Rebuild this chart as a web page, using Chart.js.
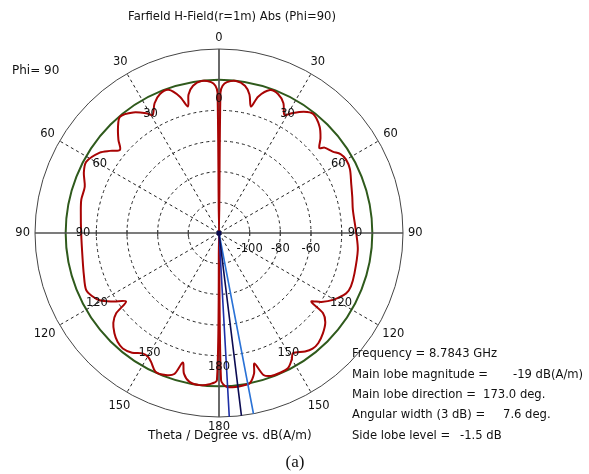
<!DOCTYPE html>
<html>
<head>
<meta charset="utf-8">
<title>Farfield H-Field (Phi=90)</title>
<script src="https://cdn.jsdelivr.net/npm/chart.js@4.4.1/dist/chart.umd.min.js"></script>
<style>
  html, body { margin: 0; padding: 0; background: #ffffff; }
  #wrap { width: 589px; height: 474px; position: relative; }
</style>
</head>
<body>
<div id="wrap"><canvas id="farfield" width="589" height="474"></canvas></div>
<script>
// Angular resolution of the polar categories (degrees per step)
const STEP = 0.2;

// Pattern for phi = 90 (right half, theta measured clockwise from the top)
const thetaPhi90 = [0, 0.6, 1.4, 3, 6.4, 10, 12.4, 14.2, 16, 19.6, 23, 26.4, 29, 31, 35, 38.4, 43.4, 47, 49.8, 51,
  54.4, 57, 60, 64, 69.4, 75, 80.2, 90, 97, 106.6, 112, 115.4, 120.4, 124, 126.6, 127.6, 130, 134, 138, 141,
  144, 148.4, 150, 153, 156.6, 160, 162.6, 164.8, 166, 168.4, 171, 173, 177.2, 179.2, 180];
const dbPhi90 = [-120, -28.5, -24, -21.5, -20.2, -22.5, -27.5, -35, -27.5, -21, -21.5, -25.5, -32, -29, -23.5, -21, -24.5, -29.5, -34.3, -31.5,
  -28.8, -25.5, -24.3, -25, -27.9, -30, -31.4, -30.5, -28.8, -27.8, -27.2, -28.2, -33.8, -39.5, -45, -34.4, -29.5, -25.8, -23.3, -23,
  -24.5, -28, -25, -21, -20.5, -20.8, -23, -31.8, -25.5, -20, -19.3, -19, -19.5, -24, -120];

// Pattern for phi = 270 (left half, theta measured counter-clockwise from the top)
const thetaPhi270 = [0.6, 1.4, 3, 6.6, 10, 12.4, 13.8, 16, 19.4, 23, 26.4, 29.4, 31, 35.4, 40.4, 43.6, 47.2, 50, 53, 56,
  61.8, 66, 71, 76.4, 82, 90, 101, 107, 113.2, 116.4, 119.4, 123, 126.4, 128, 130.4, 133.8, 137, 140.2, 144, 147.6,
  150, 152.2, 155.4, 159.4, 162.4, 164.4, 166, 168.8, 172.8, 176.4, 179.2];
const dbPhi270 = [-28.5, -24, -21.5, -20.2, -22.5, -27.5, -35, -27.5, -21, -21.5, -25.5, -31.8, -29, -23.5, -20.4, -24.5, -30.6, -35.7, -31, -26.2,
  -21.7, -23.5, -27.4, -27.6, -29, -30.1, -29.4, -27.8, -25.7, -27.5, -30.6, -38, -44.7, -34.9, -29.5, -25.5, -23, -22, -23.5, -27,
  -27, -25, -20.5, -21, -23.5, -32.3, -25.5, -21, -20, -21.2, -24];

// Main lobe results
const frequencyGHz = 8.7843;
const mainLobeMagnitude = -19;      // dB(A/m)
const mainLobeDirection = 173.0;    // deg
const angularWidth3dB = 7.6;        // deg
const sideLobeLevel = -1.5;         // dB

// Radial axis (dB) and angular tick labels
const rMin = -120, rMax = 0, rStep = 20;
const referenceLevel = -20;
const radialTickLabels = [-100, -80, -60];
const radialTickMarks = [-100, -80, -60, -40];
const angleTickLabels = [0, 30, 60, 90, 120, 150, 180, 150, 120, 90, 60, 30];

// ---- build the category data used by the radar scale ----
const N = Math.round(360 / STEP);
const labels = Array.from({ length: N }, (_, i) => (i * STEP).toFixed(1));
const idxOf = deg => ((Math.round(deg / STEP) % N) + N) % N;

const pattern = new Array(N).fill(null);
thetaPhi90.forEach((t, i) => { pattern[idxOf(t)] = dbPhi90[i]; });
thetaPhi270.forEach((t, i) => { pattern[idxOf(360 - t)] = dbPhi270[i]; });

function ray(deg) {
  const d = new Array(N).fill(null);
  const k = idxOf(deg);
  d[(k - 1 + N) % N] = rMin;   // origin
  d[k] = rMax;                 // outer circle
  return d;
}

const rayCommon = { fill: false, spanGaps: true, tension: 0, backgroundColor: 'transparent', borderWidth: 1.6, pointHoverRadius: 0 };

const datasets = [
  Object.assign({}, rayCommon, {
    label: 'Main lobe direction',
    data: ray(mainLobeDirection),
    borderColor: '#0b0b52',
    pointRadius: c => (c.raw === rMin ? 2.6 : 0),
    pointBackgroundColor: '#0b0b52',
    pointBorderWidth: 0
  }),
  Object.assign({}, rayCommon, {
    label: '3 dB (upper)',
    data: ray(mainLobeDirection + angularWidth3dB / 2),
    borderColor: '#1d2fa6',
    pointRadius: 0
  }),
  Object.assign({}, rayCommon, {
    label: '3 dB (lower)',
    data: ray(mainLobeDirection - angularWidth3dB / 2),
    borderColor: '#2a72d6',
    pointRadius: 0
  }),
  {
    label: 'Farfield',
    data: pattern,
    borderColor: '#a80404',
    borderWidth: 2,
    backgroundColor: 'transparent',
    fill: false,
    spanGaps: true,
    tension: 0.3,
    pointRadius: 0,
    pointHoverRadius: 0
  }
];

// ---- text annotations and axis ticks ----
const FONT = '"DejaVu Sans", Verdana, sans-serif';
const annotations = {
  id: 'annotations',
  afterDraw(chart) {
    const s = chart.scales.r;
    const c = chart.ctx;
    const xc = s.xCenter, yc = s.yCenter;
    const rOuter = s.getDistanceFromCenterForValue(rMax);
    const rInner = s.getDistanceFromCenterForValue(-40);
    c.save();
    c.fillStyle = '#111';
    c.textBaseline = 'middle';

    // small tick marks on the horizontal axis
    c.strokeStyle = '#444';
    c.lineWidth = 1.2;
    radialTickMarks.forEach(v => {
      const d = s.getDistanceFromCenterForValue(v);
      [xc + d, xc - d].forEach(x => {
        c.beginPath(); c.moveTo(x, yc - 3); c.lineTo(x, yc + 3); c.stroke();
      });
    });

    // radial tick labels
    c.font = '11.5px ' + FONT;
    c.textAlign = 'center';
    radialTickLabels.forEach(v => {
      const d = s.getDistanceFromCenterForValue(v);
      c.fillText(String(v), xc + d, yc + 16);
    });

    // angle labels, outer and inner rings
    const h = 11;
    angleTickLabels.forEach((lab, k) => {
      const a = k * 30 * Math.PI / 180;
      const txt = String(lab);
      const w = c.measureText(txt).width;
      const half = Math.abs(Math.sin(a)) * w / 2 + Math.abs(Math.cos(a)) * h / 2;
      const idx = idxOf(k * 30);
      const po = s.getPointPosition(idx, rOuter + 5 + half);
      c.fillText(txt, po.x, po.y);
      const pi = s.getPointPosition(idx, rInner + 6 + half);
      c.fillText(txt, pi.x, pi.y);
    });

    // title and captions
    c.font = '11.6px ' + FONT;
    c.fillText('Farfield H-Field(r=1m) Abs (Phi=90)', 232, 17);
    c.font = '12px ' + FONT;
    c.textAlign = 'left';
    c.fillText('Phi= 90', 12, 71);
    c.fillText('Theta / Degree vs. dB(A/m)', 148, 436);

    // main lobe summary
    c.font = '11.6px ' + FONT;
    const x0 = 352;
    c.fillText('Frequency = ' + frequencyGHz.toFixed(4) + ' GHz', x0, 354);
    c.fillText('Main lobe magnitude =', x0, 375);
    c.fillText(mainLobeMagnitude + ' dB(A/m)', 513, 375);
    c.fillText('Main lobe direction =', x0, 395);
    c.fillText(mainLobeDirection.toFixed(1) + ' deg.', 483, 395);
    c.fillText('Angular width (3 dB) =', x0, 415);
    c.fillText(angularWidth3dB.toFixed(1) + ' deg.', 503, 415);
    c.fillText('Side lobe level =', x0, 436);
    c.fillText(sideLobeLevel.toFixed(1) + ' dB', 460, 436);

    c.font = '17px "Liberation Serif", "Times New Roman", serif';
    c.textAlign = 'center';
    c.fillText('(a)', 295, 463);
    c.restore();
  }
};

new Chart(document.getElementById('farfield').getContext('2d'), {
  type: 'radar',
  data: { labels, datasets },
  options: {
    responsive: false,
    animation: false,
    events: [],
    layout: { padding: { left: 35, top: 49, right: 186, bottom: 57 } },
    plugins: { legend: { display: false }, tooltip: { enabled: false }, title: { display: false } },
    scales: {
      r: {
        min: rMin,
        max: rMax,
        startAngle: 0,
        ticks: { display: false, stepSize: rStep },
        pointLabels: { display: false },
        angleLines: {
          display: true,
          color: c => (c.index % 450 === 0 ? '#505050' : (c.index % 150 === 0 ? '#222' : 'transparent')),
          lineWidth: c => (c.index % 450 === 0 ? 1.7 : (c.index % 150 === 0 ? 1 : 0)),
          borderDash: c => (c.index % 450 === 0 ? [] : [3, 3])
        },
        grid: {
          circular: true,
          color: c => {
            const v = c.tick.value;
            if (v === rMin) return 'transparent';
            if (v === referenceLevel) return '#2f5a1c';
            if (v === rMax) return '#444';
            return '#222';
          },
          lineWidth: c => {
            const v = c.tick.value;
            if (v === rMin) return 0;
            if (v === referenceLevel) return 2;
            return 1;
          }
        },
        border: {
          dash: c => ((c.tick && (c.tick.value === referenceLevel || c.tick.value === rMax)) ? [] : [3, 3])
        }
      }
    }
  },
  plugins: [annotations]
});
</script>
</body>
</html>
